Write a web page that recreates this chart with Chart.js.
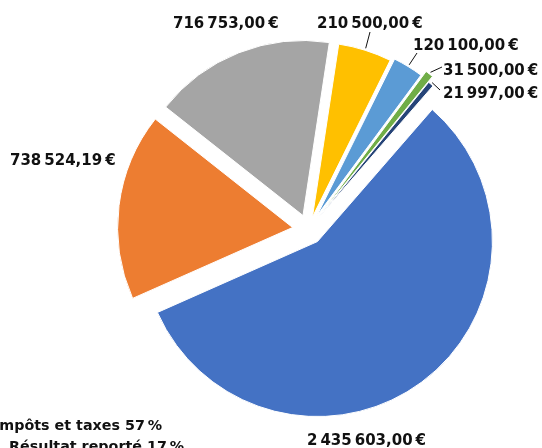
<!DOCTYPE html>
<html>
<head>
<meta charset="utf-8">
<script src="https://cdn.jsdelivr.net/npm/chart.js@4.4.1/dist/chart.umd.min.js"></script>
<style>
  html, body { margin: 0; padding: 0; background: #fff; }
  #wrap { width: 542px; height: 448px; }
</style>
</head>
<body>
<div id="wrap"><canvas id="budget-pie" width="542" height="448"></canvas></div>
<script>
// Data
const categories = ['Impôts et taxes', 'Résultat reporté', '', '', '', '', ''];
const amounts = [2435603.00, 738524.19, 716753.00, 210500.00, 120100.00, 31500.00, 21997.00];
const legendItems = [0, 1]; // categories listed under the pie

// Styles / layout
const sliceColors = ['#4472C4', '#ED7D31', '#A5A5A5', '#FFC000', '#5B9BD5', '#70AD47', '#264478'];
const explode = [15, 16, 15, 13, 16, 22, 15];
// value label: left x, baseline y ; leader line end (or null)
const labelPos = [[307, 445], [10, 165], [173, 28], [317, 28], [413, 50], [443, 75], [443, 98]];
const leaderEnd = [null, null, null, [370, 32], [417, 53], [442, 67], [440, 90]];
const legendPos = [[-6, 430], [9, 451]];

const fmt = new Intl.NumberFormat('fr-FR', { minimumFractionDigits: 2, maximumFractionDigits: 2 });
const euro = v => fmt.format(v).replace(/[\u202f\u00a0 ]/g, '\u2009') + '\u2009€';
const total = amounts.reduce((a, b) => a + b, 0);

// push each slice out along its middle angle
const explodePlugin = {
  id: 'explode',
  beforeDatasetsDraw(chart) {
    const { left, right, top, bottom } = chart.chartArea;
    const cx = (left + right) / 2;
    const cy = (top + bottom) / 2;
    chart.getDatasetMeta(0).data.forEach((arc, i) => {
      const mid = (arc.startAngle + arc.endAngle) / 2;
      arc.x = cx + Math.cos(mid) * explode[i];
      arc.y = cy + Math.sin(mid) * explode[i];
    });
  }
};

const labelPlugin = {
  id: 'valueLabels',
  afterDatasetsDraw(chart) {
    const ctx = chart.ctx;
    ctx.save();
    ctx.font = 'bold 15px "DejaVu Sans"';
    ctx.fillStyle = '#111';
    ctx.strokeStyle = '#111';
    ctx.lineWidth = 1;
    ctx.textBaseline = 'alphabetic';
    chart.getDatasetMeta(0).data.forEach((arc, i) => {
      const [lx, ly] = labelPos[i];
      ctx.fillText(euro(amounts[i]), lx, ly);
      if (leaderEnd[i]) {
        const mid = (arc.startAngle + arc.endAngle) / 2;
        const r = arc.outerRadius + 2;
        ctx.beginPath();
        ctx.moveTo(arc.x + Math.cos(mid) * r, arc.y + Math.sin(mid) * r);
        ctx.lineTo(leaderEnd[i][0], leaderEnd[i][1]);
        ctx.stroke();
      }
    });
    // legend text under the pie
    ctx.font = 'bold 14.3px "DejaVu Sans"';
    legendItems.forEach((idx, k) => {
      const pct = Math.round(amounts[idx] / total * 100);
      ctx.fillText(categories[idx] + ' ' + pct + '\u2009%', legendPos[k][0], legendPos[k][1]);
    });
    ctx.restore();
  }
};

new Chart(document.getElementById('budget-pie'), {
  type: 'pie',
  data: {
    labels: categories,
    datasets: [{
      data: amounts,
      backgroundColor: sliceColors,
      borderColor: '#fff',
      borderWidth: 1
    }]
  },
  options: {
    responsive: false,
    animation: false,
    rotation: 41,
    radius: 175,
    layout: { padding: { left: 75, right: 0, top: 11, bottom: 0 } },
    plugins: {
      legend: { display: false },
      tooltip: { enabled: false }
    }
  },
  plugins: [explodePlugin, labelPlugin]
});
</script>
</body>
</html>
